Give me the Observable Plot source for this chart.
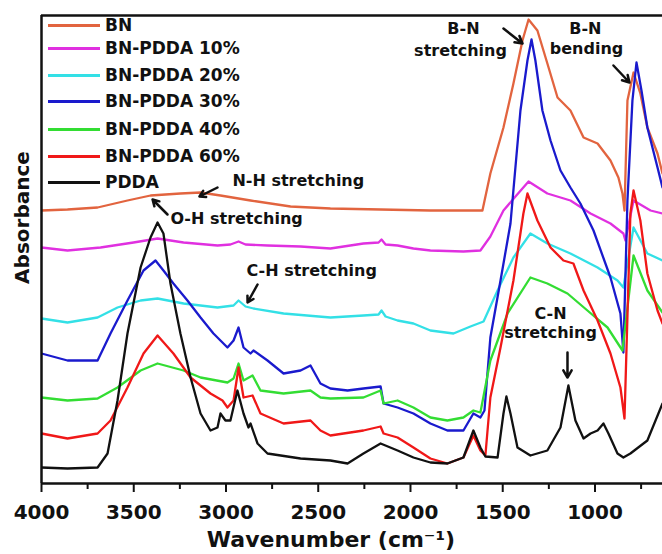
<!DOCTYPE html>
<html><head><meta charset="utf-8">
<script src="https://cdn.jsdelivr.net/npm/d3@7"></script>
<script src="https://cdn.jsdelivr.net/npm/@observablehq/plot@0.6"></script>
<style>
body{margin:0;background:#fff;}
#wrap{position:relative;width:662px;height:554px;font-family:"DejaVu Sans",sans-serif;font-weight:bold;}
.leg{position:absolute;left:48px;display:flex;align-items:center;height:20px;font-size:17px;color:#111;white-space:nowrap;}
.leg .sw{display:inline-block;width:52px;height:0;border-top:3px solid;margin-right:5px;}
</style></head><body><div id="wrap"></div>
<script>
// [wavenumber (cm-1), absorbance (arbitrary, offset stacked)]
const BN = [[4000,273],[3859,274],[3696,276],[3534,283],[3409,288],[3247,290],[3138,291],[3030,288],[2867,283],[2650,277],[2434,275],[2162,274],[1892,273],[1610,273],[1567,310],[1496,356],[1442,400],[1393,443],[1360,464],[1312,453],[1258,420],[1203,386],[1133,373],[1062,346],[986,340],[916,323],[873,306],[851,290],[840,273],[824,383],[791,411],[754,390],[716,356],[661,330],[634,310]];
const PDDA10 = [[4000,236],[3859,233],[3680,236],[3501,241],[3371,245],[3230,241],[3046,238],[2976,239],[2932,242],[2894,239],[2775,238],[2596,237],[2434,235],[2255,240],[2173,241],[2157,244],[2135,239],[2070,238],[1984,235],[1892,233],[1713,232],[1621,233],[1567,247],[1496,273],[1431,287],[1360,302],[1258,290],[1133,283],[1024,270],[916,260],[846,250],[835,243],[791,283],[699,273],[634,270]];
const PDDA20 = [[4000,165],[3859,161],[3696,166],[3588,176],[3463,183],[3371,185],[3230,180],[3046,176],[2959,178],[2932,183],[2894,177],[2851,175],[2688,170],[2434,166],[2255,168],[2173,169],[2157,173],[2135,167],[2070,163],[1984,160],[1892,153],[1767,150],[1675,157],[1604,162],[1528,193],[1442,226],[1350,250],[1258,240],[1133,230],[986,216],[878,203],[846,196],[791,256],[716,230],[634,223]];
const PDDA30 = [[4000,130],[3859,123],[3696,123],[3626,150],[3534,183],[3447,213],[3382,223],[3339,213],[3285,200],[3209,183],[3138,166],[3068,150],[2992,136],[2959,143],[2932,156],[2905,136],[2867,130],[2851,133],[2775,123],[2688,110],[2596,113],[2542,118],[2488,100],[2434,95],[2341,93],[2255,95],[2162,97],[2146,80],[2070,76],[1984,70],[1892,60],[1800,53],[1713,53],[1659,70],[1621,66],[1599,73],[1567,146],[1512,203],[1458,260],[1404,373],[1366,423],[1344,444],[1323,423],[1285,373],[1241,343],[1187,313],[1133,296],[1079,280],[1008,253],[916,206],[862,170],[846,131],[824,283],[797,383],[775,421],[748,393],[716,356],[661,316],[634,296]];
const PDDA40 = [[4000,86],[3859,83],[3696,85],[3588,96],[3463,113],[3371,120],[3230,113],[3138,106],[2992,101],[2959,105],[2932,120],[2905,103],[2856,108],[2813,93],[2688,90],[2542,93],[2488,86],[2434,85],[2255,86],[2162,93],[2146,80],[2070,83],[1984,76],[1892,66],[1800,63],[1713,66],[1659,73],[1621,71],[1567,123],[1474,170],[1350,206],[1258,200],[1149,190],[1041,173],[932,156],[851,133],[791,228],[716,193],[634,171]];
const PDDA60 = [[4000,50],[3859,45],[3696,50],[3626,63],[3534,96],[3447,130],[3371,148],[3285,130],[3192,106],[3084,90],[3019,83],[2992,76],[2959,83],[2932,116],[2905,86],[2856,88],[2813,70],[2688,60],[2542,63],[2488,53],[2434,48],[2255,53],[2162,57],[2146,50],[2070,46],[1984,36],[1892,25],[1800,20],[1713,26],[1659,48],[1621,33],[1594,28],[1567,86],[1512,136],[1442,203],[1388,270],[1366,290],[1312,263],[1241,236],[1171,223],[1117,220],[1062,193],[986,163],[916,130],[862,96],[840,65],[808,270],[791,293],[754,263],[716,210],[661,173],[634,160]];
const PDDA = [[4000,16],[3859,15],[3696,16],[3642,30],[3588,83],[3534,150],[3463,216],[3409,246],[3371,261],[3339,250],[3301,200],[3247,150],[3192,106],[3138,70],[3084,53],[3046,56],[3030,70],[3003,63],[2976,63],[2938,93],[2905,70],[2878,56],[2867,60],[2829,40],[2775,30],[2596,25],[2434,23],[2341,20],[2255,30],[2162,40],[2070,33],[1984,26],[1892,21],[1800,20],[1713,26],[1659,53],[1621,36],[1594,27],[1528,26],[1496,70],[1480,87],[1458,70],[1420,36],[1350,28],[1258,33],[1187,56],[1144,98],[1106,63],[1062,45],[1024,50],[986,53],[954,60],[927,50],[878,30],[846,26],[808,30],[716,43],[634,80]];

const names = ["BN","BN-PDDA 10%","BN-PDDA 20%","BN-PDDA 30%","BN-PDDA 40%","BN-PDDA 60%","PDDA"];
const colors = ["#e2643f","#e030e0","#33e0e6","#1a1acd","#33dd33","#f01818","#111111"];
const spectra = [BN, PDDA10, PDDA20, PDDA30, PDDA40, PDDA60, PDDA];

const majorTicks = [4000,3500,3000,2500,2000,1500,1000];
const minorTicks = [3750,3250,2750,2250,1750,1250,750];

// annotations anchored at their left end: text, wavenumber, absorbance
const sideLabels = [
  {t:"N-H stretching", w:2965, a:303},
  {t:"O-H stretching", w:3301, a:265},
  {t:"C-H stretching", w:2889, a:213}
];
// annotations centred on their position
const centreLabels = [
  {t:"B-N", w:1713, a:455},
  {t:"stretching", w:1729, a:433},
  {t:"B-N", w:1052, a:455},
  {t:"bending", w:1046, a:435},
  {t:"C-N", w:1241, a:170},
  {t:"stretching", w:1241, a:151}
];
const arrows = [
  {w1:3046, a1:296, w2:3144, a2:287},
  {w1:3317, a1:269, w2:3398, a2:284},
  {w1:2829, a1:199, w2:2883, a2:181},
  {w1:1496, a1:455, w2:1393, a2:440},
  {w1:900, a1:418, w2:813, a2:401},
  {w1:1149, a1:131, w2:1149, a2:106}
];

const lineMarks = spectra.map((s, i) => Plot.line(s, {x: d => d[0], y: d => d[1], stroke: colors[i], strokeWidth: 2.3, clip: true}));

const chart = Plot.plot({
  width: 662, height: 554,
  marginLeft: 41, marginRight: 0, marginTop: 15, marginBottom: 71,
  style: {fontFamily: "DejaVu Sans", fontWeight: "bold", color: "#111", background: "#fff"},
  x: {domain: [4000, 634], label: null},
  y: {domain: [0, 468], axis: null},
  marks: [
    ...lineMarks,
    Plot.ruleY([468], {stroke: "#111", strokeWidth: 2.5}),
    Plot.ruleX([4000], {stroke: "#111", strokeWidth: 2.5}),
    Plot.ruleY([0], {stroke: "#111", strokeWidth: 2.5}),
    Plot.axisX({ticks: majorTicks, tickSize: 9, tickPadding: 12, strokeWidth: 2, fontSize: 20, fontWeight: "bold", tickFormat: d3.format("d"), label: null}),
    Plot.axisX({ticks: minorTicks, tickSize: 6, strokeWidth: 2, tickFormat: () => "", label: null}),
    Plot.text(["Wavenumber (cm⁻¹)"], {frameAnchor: "bottom", textAnchor: "middle", dx: -21, dy: 56, fontSize: 22, fontWeight: "bold", lineAnchor: "middle"}),
    Plot.text(["Absorbance"], {frameAnchor: "left", textAnchor: "middle", rotate: -90, dx: -19, dy: -32, fontSize: 20, fontWeight: "bold", lineAnchor: "middle"}),
    Plot.text(sideLabels, {x: "w", y: "a", text: "t", textAnchor: "start", fontSize: 16, fontWeight: "bold", lineAnchor: "middle", fill: "#111"}),
    Plot.text(centreLabels, {x: "w", y: "a", text: "t", textAnchor: "middle", fontSize: 16, fontWeight: "bold", lineAnchor: "middle", fill: "#111"}),
    Plot.arrow(arrows, {x1: "w1", y1: "a1", x2: "w2", y2: "a2", stroke: "#111", strokeWidth: 2.5, headLength: 8})
  ]
});
const wrap = document.getElementById("wrap");
wrap.appendChild(chart);

const legendCenters = [25, 48, 75, 101, 129, 156, 182];
names.forEach((n, i) => {
  const row = document.createElement("div");
  row.className = "leg";
  row.style.top = (legendCenters[i] - 10) + "px";
  const sw = document.createElement("span");
  sw.className = "sw";
  sw.style.borderTopColor = colors[i];
  row.appendChild(sw);
  row.appendChild(document.createTextNode(n));
  wrap.appendChild(row);
});
</script></body></html>
